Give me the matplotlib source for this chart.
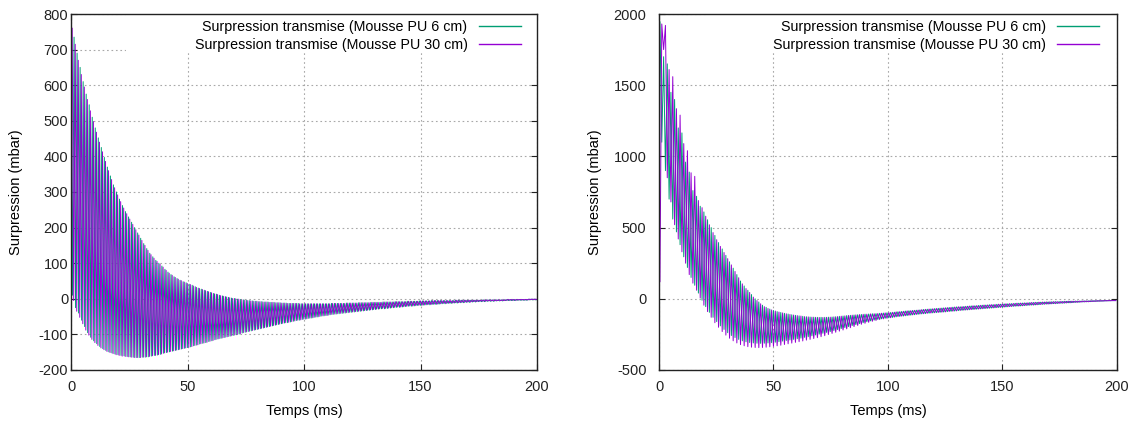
import numpy as np
import matplotlib
matplotlib.use("Agg")
import matplotlib.pyplot as plt
from matplotlib.patches import Rectangle

plt.rcParams['font.family'] = ['Liberation Sans', 'DejaVu Sans']
plt.rcParams['axes.unicode_minus'] = False

# ---------------- data: successive peaks / troughs of the recorded signals (mbar) ----------------
# Left panel: one peak every 1.3 ms, troughs half-way between.
step_left = 1.3
left_6cm_peak_t0, left_6cm_trough_t0 = 0.0, 0.65
left_6cm_peaks = [775, 735, 690, 650, 610, 575, 545, 510, 480, 452,
                  425, 397, 370, 345, 320, 300, 280, 262, 245, 230,
                  215, 200, 185, 170, 155, 141, 128, 118, 108, 100,
                  92, 83, 75, 68, 62, 57, 52, 48, 45, 41,
                  38, 34, 30, 27, 24, 21, 18, 15, 13, 10,
                  8, 6, 4, 2, 1, -1, -2, -3, -4, -5,
                  -6, -7, -8, -8, -9, -9, -10, -10, -11, -11,
                  -12, -12, -13, -13, -13, -13, -14, -14, -14, -14,
                  -14, -14, -14, -14, -14, -14, -13, -13, -13, -13,
                  -13, -12, -12, -12, -12, -11, -11, -11, -11, -10,
                  -10, -10, -10, -9, -9, -9, -9, -8, -8, -8,
                  -8, -7, -7, -7, -7, -6, -6, -6, -6, -5,
                  -5, -5, -5, -5, -5, -5, -5, -4, -4, -4,
                  -4, -4, -4, -4, -4, -4, -3, -3, -3, -3,
                  -3, -3, -3, -3, -2, -2, -2, -2, -2, -2,
                  -2, -1, -1, -1]
left_6cm_troughs = [10, -25, -40, -60, -78, -95, -108, -118, -126, -134,
                    -140, -145, -149, -152, -155, -157, -159, -160, -162, -163,
                    -164, -165, -165, -164, -164, -163, -161, -159, -158, -156,
                    -153, -151, -149, -147, -145, -143, -141, -139, -137, -135,
                    -132, -130, -127, -125, -123, -120, -118, -115, -113, -111,
                    -109, -107, -105, -103, -101, -99, -96, -94, -92, -90,
                    -88, -86, -84, -82, -80, -78, -76, -74, -72, -70,
                    -68, -67, -65, -63, -61, -60, -58, -57, -55, -54,
                    -52, -51, -49, -48, -47, -45, -44, -43, -42, -41,
                    -40, -39, -38, -37, -36, -35, -34, -33, -32, -31,
                    -30, -29, -28, -28, -27, -26, -25, -24, -24, -23,
                    -22, -21, -21, -20, -19, -19, -18, -17, -17, -16,
                    -16, -15, -14, -14, -13, -13, -12, -12, -11, -11,
                    -10, -10, -9, -9, -8, -8, -8, -7, -7, -7,
                    -6, -6, -6, -5, -5, -5, -5, -4, -4, -4,
                    -4, -3, -3, -3]
left_30cm_peak_t0, left_30cm_trough_t0 = 0.5, 1.15
left_30cm_peaks = [760, 715, 670, 630, 595, 560, 528, 498, 468, 440,
                   413, 386, 360, 335, 312, 292, 273, 255, 239, 224,
                   209, 194, 179, 164, 150, 136, 124, 114, 105, 97,
                   89, 80, 72, 66, 60, 55, 51, 47, 43, 40,
                   36, 32, 29, 26, 23, 20, 17, 14, 12, 9,
                   7, 5, 3, 1, 0, -1, -3, -4, -5, -6,
                   -7, -7, -8, -9, -9, -10, -10, -11, -11, -12,
                   -12, -13, -13, -13, -13, -14, -14, -14, -14, -14,
                   -14, -14, -14, -14, -14, -14, -13, -13, -13, -13,
                   -13, -12, -12, -12, -12, -11, -11, -11, -11, -10,
                   -10, -10, -10, -9, -9, -9, -9, -8, -8, -8,
                   -8, -7, -7, -7, -7, -6, -6, -6, -6, -5,
                   -5, -5, -5, -5, -5, -5, -5, -4, -4, -4,
                   -4, -4, -4, -4, -4, -4, -3, -3, -3, -3,
                   -3, -3, -3, -3, -2, -2, -2, -2, -2, -2,
                   -2, -1, -1, -1]
left_30cm_troughs = [-5, -35, -52, -70, -88, -102, -114, -123, -131, -138,
                     -143, -148, -151, -154, -157, -159, -161, -162, -163, -164,
                     -165, -165, -165, -164, -163, -162, -160, -159, -157, -155,
                     -152, -150, -148, -146, -144, -142, -140, -138, -136, -134,
                     -131, -129, -126, -124, -122, -119, -117, -114, -112, -110,
                     -108, -106, -104, -102, -100, -98, -95, -93, -91, -89,
                     -87, -85, -83, -81, -79, -77, -75, -73, -71, -69,
                     -67, -66, -64, -62, -60, -59, -57, -56, -54, -53,
                     -51, -50, -48, -47, -46, -44, -43, -42, -41, -40,
                     -39, -38, -37, -36, -35, -34, -33, -32, -31, -30,
                     -29, -28, -27, -27, -26, -25, -24, -23, -23, -22,
                     -21, -20, -20, -19, -18, -18, -17, -16, -16, -15,
                     -15, -14, -13, -13, -12, -12, -11, -11, -10, -10,
                     -9, -9, -8, -8, -7, -7, -7, -6, -6, -6,
                     -5, -5, -5, -4, -4, -4, -4, -3, -3, -3,
                     -3, -2, -2, -2]

# Right panel: one peak every 1.6 ms, troughs half-way between.
step_right = 1.6
right_6cm_peak_t0, right_6cm_trough_t0 = 0.4, 1.2
right_6cm_peaks = [1945, 1700, 1650, 1450, 1400, 1200, 1165, 960, 890, 760,
                   720, 650, 610, 555, 500, 445, 395, 350, 305, 260,
                   215, 170, 125, 90, 60, 30, 0, -22, -45, -60,
                   -72, -82, -90, -96, -102, -107, -112, -116, -120, -123,
                   -126, -128, -129, -130, -130, -130, -129, -128, -126, -123,
                   -121, -118, -116, -114, -112, -110, -108, -107, -105, -104,
                   -102, -100, -98, -96, -94, -91, -89, -86, -84, -82,
                   -80, -78, -75, -73, -71, -69, -67, -65, -63, -61,
                   -59, -57, -56, -54, -52, -50, -49, -47, -45, -44,
                   -42, -41, -39, -38, -36, -35, -34, -32, -31, -30,
                   -29, -27, -26, -25, -24, -23, -22, -21, -20, -20,
                   -19, -18, -17, -17, -16, -16, -15, -15, -14, -14,
                   -13, -13, -12, -12, -12]
right_6cm_troughs = [1100, 900, 700, 560, 470, 380, 295, 220, 150, 95,
                     40, -10, -55, -95, -130, -160, -190, -215, -238, -258,
                     -272, -285, -295, -302, -307, -310, -312, -313, -312, -310,
                     -308, -305, -301, -297, -293, -289, -285, -280, -276, -271,
                     -266, -260, -254, -248, -242, -236, -230, -223, -216, -209,
                     -202, -195, -188, -181, -174, -168, -161, -155, -150, -145,
                     -141, -137, -134, -131, -127, -124, -121, -118, -115, -112,
                     -109, -106, -104, -101, -99, -97, -95, -93, -90, -88,
                     -86, -83, -81, -79, -77, -75, -73, -71, -69, -67,
                     -65, -63, -61, -59, -57, -55, -53, -51, -50, -48,
                     -46, -44, -43, -41, -39, -37, -36, -34, -33, -31,
                     -30, -28, -27, -25, -24, -22, -21, -20, -18, -17,
                     -16, -15, -14, -13, -13]
right_30cm_peak_t0, right_30cm_trough_t0 = 1.2, 0.4
right_30cm_peaks = [1930, 1920, 1610, 1560, 1335, 1290, 1090, 1040, 885, 860,
                    690, 640, 580, 520, 465, 415, 368, 325, 282, 238,
                    192, 148, 105, 72, 45, 12, -12, -35, -55, -68,
                    -78, -86, -93, -99, -105, -110, -114, -118, -121, -125,
                    -127, -129, -130, -131, -131, -130, -129, -127, -125, -122,
                    -120, -117, -115, -113, -111, -109, -108, -106, -105, -103,
                    -101, -99, -97, -95, -92, -90, -88, -85, -83, -81,
                    -79, -76, -74, -72, -70, -68, -66, -64, -62, -60,
                    -58, -56, -55, -53, -51, -49, -48, -46, -44, -43,
                    -41, -40, -38, -37, -35, -34, -33, -31, -30, -29,
                    -28, -26, -25, -24, -23, -22, -21, -20, -20, -19,
                    -18, -17, -17, -16, -16, -15, -15, -14, -14, -13,
                    -13, -12, -12, -12, -12]
right_30cm_troughs = [120, 1750, 850, 680, 520, 420, 330, 250, 170, 110,
                      60, 5, -45, -90, -130, -168, -200, -230, -255, -277,
                      -295, -310, -322, -330, -336, -340, -342, -343, -342, -340,
                      -337, -334, -330, -326, -321, -316, -311, -306, -301, -296,
                      -290, -285, -279, -273, -266, -259, -251, -243, -235, -227,
                      -219, -211, -203, -195, -187, -179, -172, -165, -158, -152,
                      -146, -141, -137, -133, -129, -125, -122, -119, -116, -113,
                      -110, -107, -105, -102, -100, -98, -96, -94, -92, -89,
                      -87, -85, -82, -80, -78, -76, -74, -72, -70, -68,
                      -66, -64, -62, -60, -58, -56, -54, -52, -51, -49,
                      -47, -45, -44, -42, -40, -38, -37, -35, -34, -32,
                      -31, -29, -28, -26, -25, -23, -22, -21, -19, -18,
                      -17, -16, -15, -14, -13]

labels = ["Surpression transmise (Mousse PU 6 cm)", "Surpression transmise (Mousse PU 30 cm)"]
x_ticks = [0, 50, 100, 150, 200]
y_ticks_left = [-200, -100, 0, 100, 200, 300, 400, 500, 600, 700, 800]
y_ticks_right = [-500, 0, 500, 1000, 1500, 2000]
x_label = "Temps (ms)"
y_label = "Surpression (mbar)"

GREEN = "#009e73"
PURPLE = "#9400d3"


def series(peak_t0, peaks, trough_t0, troughs, step):
    """Merge the peak and trough samples into one time-ordered signal."""
    tp = peak_t0 + step * np.arange(len(peaks))
    tt = trough_t0 + step * np.arange(len(troughs))
    t = np.concatenate([tp, tt])
    v = np.concatenate([np.asarray(peaks, float), np.asarray(troughs, float)])
    order = np.argsort(t, kind="stable")
    return t[order], v[order]


fig = plt.figure(figsize=(11.31, 4.23), dpi=100)
ax1 = fig.add_axes([0.0628, 0.1253, 0.4120, 0.8416])
ax2 = fig.add_axes([0.5827, 0.1253, 0.4047, 0.8416])

LW = 0.7
ax1.plot(*series(left_6cm_peak_t0, left_6cm_peaks, left_6cm_trough_t0, left_6cm_troughs, step_left),
         color=GREEN, lw=LW, label=labels[0])
ax1.plot(*series(left_30cm_peak_t0, left_30cm_peaks, left_30cm_trough_t0, left_30cm_troughs, step_left),
         color=PURPLE, lw=LW, label=labels[1])
ax2.plot(*series(right_6cm_peak_t0, right_6cm_peaks, right_6cm_trough_t0, right_6cm_troughs, step_right),
         color=GREEN, lw=LW, label=labels[0])
ax2.plot(*series(right_30cm_peak_t0, right_30cm_peaks, right_30cm_trough_t0, right_30cm_troughs, step_right),
         color=PURPLE, lw=LW, label=labels[1])

# opaque key area (hides the grid behind the legend)
ax1.add_patch(Rectangle((0.1185, 0.8925), 0.8815, 0.1075, transform=ax1.transAxes,
                        facecolor="white", edgecolor="none", zorder=1))
ax2.add_patch(Rectangle((0.1025, 0.895), 0.8975, 0.105, transform=ax2.transAxes,
                        facecolor="white", edgecolor="none", zorder=1))


def style(ax, yticks, ylim, ylab_x, ypad, legend_anchor):
    ax.set_xlim(0, 200)
    ax.set_ylim(*ylim)
    ax.set_xticks(x_ticks)
    ax.set_yticks(yticks)
    ax.set_axisbelow(True)
    ax.grid(True, color="#a8a8a8", linestyle=(0, (1.5, 2.5)), linewidth=0.8)
    ax.tick_params(direction="in", top=True, right=True, length=4, width=0.8,
                   labelsize=10.5, colors="#222222")
    ax.tick_params(axis="x", pad=7)
    ax.tick_params(axis="y", pad=ypad)
    for s in ax.spines.values():
        s.set_linewidth(1.0)
        s.set_color("#222222")
    ax.set_xlabel(x_label, fontsize=10.5)
    ax.set_ylabel(y_label, fontsize=10.5)
    ax.xaxis.set_label_coords(0.5, -0.095)
    ax.yaxis.set_label_coords(ylab_x, 0.5)
    leg = ax.legend(loc="upper right", bbox_to_anchor=legend_anchor, markerfirst=False,
                    frameon=False, fontsize=10.3, handlelength=2.95, handletextpad=0.8,
                    labelspacing=0.28, borderpad=0, borderaxespad=0)
    for line in leg.get_lines():
        line.set_linewidth(1.0)


style(ax1, y_ticks_left, (-200, 800), -0.102, 2.0, (0.966, 0.984))
style(ax2, y_ticks_right, (-500, 2000), -0.1245, 9.0, (0.962, 0.984))

fig.savefig("out.png", dpi=100)
